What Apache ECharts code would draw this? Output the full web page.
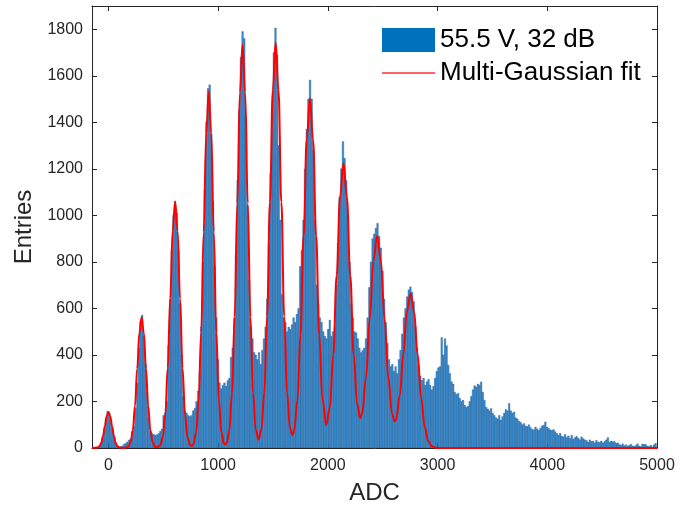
<!DOCTYPE html>
<html>
<head>
<meta charset="utf-8">
<title>ADC spectrum</title>
<script src="https://cdn.jsdelivr.net/npm/echarts@6/dist/echarts.min.js"></script>
<style>
	html, body { margin: 0; padding: 0; background: #fff; }
	#main { width: 694px; height: 510px; }
</style>
</head>
<body>
<div id="main"></div>
<script>
// histogram bins: first bin starts at BIN_START, each BIN_W wide
var BIN_START = -150;
var BIN_W = 15;

// entries per bin (20 bins = 300 ADC per row)
var counts = [
	// -150 .. 150
	0, 0, 0, 2, 6, 18, 42, 82, 128, 158, 150, 120, 80, 45, 22, 10, 5, 6, 9, 16,
	// 150 .. 450
	20, 26, 34, 40, 70, 92, 170, 280, 430, 545, 571, 480, 360, 240, 130, 72, 62, 58, 55, 57,
	// 450 .. 750
	62, 72, 82, 140, 150, 200, 440, 640, 850, 1000, 1062, 1010, 850, 620, 400, 220, 160, 150, 140, 135,
	// 750 .. 1050
	140, 160, 170, 200, 245, 330, 520, 800, 1110, 1400, 1545, 1561, 1350, 1060, 780, 560, 380, 280, 255, 270,
	// 1050 .. 1350
	280, 265, 290, 300, 390, 430, 560, 830, 1150, 1450, 1680, 1790, 1760, 1420, 1040, 720, 520, 470, 410, 400,
	// 1350 .. 1650
	380, 410, 360, 420, 470, 520, 640, 880, 1180, 1460, 1700, 1805, 1690, 1300, 980, 660, 560, 540, 500, 520,
	// 1650 .. 1950
	510, 530, 560, 540, 575, 600, 780, 850, 980, 1200, 1370, 1500, 1582, 1500, 1280, 980, 700, 620, 560, 540,
	// 1950 .. 2250
	500, 480, 470, 510, 550, 480, 500, 520, 700, 880, 1080, 1200, 1317, 1245, 1150, 1000, 800, 620, 560, 500,
	// 2250 .. 2550
	495, 470, 430, 410, 420, 430, 470, 560, 690, 800, 900, 920, 945, 966, 910, 860, 760, 640, 540, 450,
	// 2550 .. 2850
	380, 350, 360, 330, 350, 320, 380, 420, 490, 560, 600, 650, 680, 693, 670, 630, 520, 430, 350, 310,
	// 2850 .. 3150
	290, 300, 270, 285, 295, 270, 250, 265, 300, 330, 345, 350, 475, 400, 470, 440, 356, 320, 285, 275,
	// 3150 .. 3450
	240, 230, 235, 214, 200, 205, 184, 175, 180, 200, 222, 250, 268, 262, 275, 270, 284, 240, 205, 175,
	// 3450 .. 3750
	168, 160, 170, 150, 140, 130, 125, 140, 120, 135, 150, 165, 160, 191, 160, 150, 155, 130, 125, 115,
	// 3750 .. 4050
	110, 100, 105, 95, 92, 100, 88, 80, 78, 90, 82, 76, 85, 95, 98, 112, 90, 85, 78, 76,
	// 4050 .. 4350
	79, 70, 62, 55, 63, 50, 48, 58, 45, 52, 41, 55, 38, 45, 50, 42, 36, 48, 40, 35,
	// 4350 .. 4650
	32, 25, 35, 28, 30, 22, 33, 26, 24, 30, 22, 28, 35, 45, 25, 30, 27, 28, 20, 22,
	// 4650 .. 4995
	15, 12, 18, 10, 14, 8, 12, 16, 9, 7, 11, 18, 9, 6, 17, 16, 15, 8, 6, 12, 5, 14, 20
];

var fitX = [-150, -100, -83, -66, -50, -33, -16, 0, 16, 33, 50, 66, 83, 100, 150,
	182, 202, 222, 242, 262, 282, 302, 322, 342, 362, 382, 402, 422, 440,
	473, 495, 518, 540, 563, 585, 608, 630, 653, 675, 698, 720, 743, 760,
	776, 799, 822, 845, 868, 891, 914, 937, 960, 983, 1006, 1029, 1052, 1065,
	1078, 1102, 1126, 1150, 1174, 1198, 1222, 1246, 1270, 1294, 1318, 1342, 1368,
	1394, 1420, 1446, 1472, 1498, 1524, 1550, 1576, 1602, 1628, 1654, 1678,
	1693, 1722, 1750, 1779, 1807, 1836, 1865, 1893, 1921, 1950, 1985,
	2018, 2049, 2080, 2111, 2142, 2173, 2204, 2235, 2266, 2295,
	2313, 2347, 2381, 2415, 2449, 2483, 2517, 2551, 2585, 2608,
	2623, 2655, 2688, 2720, 2753, 2786, 2818, 2850, 2883, 2915, 2948, 2980, 3000, 5000];
var fitY = [0, 2, 7, 21, 50, 94, 137, 155, 137, 94, 50, 21, 7, 2, 0.5,
	6, 25, 76, 182, 341, 496, 562, 496, 341, 182, 76, 25, 6, 3,
	12, 46, 143, 344, 642, 934, 1058, 934, 642, 344, 143, 46, 14, 9,
	18, 67, 207, 497, 929, 1352, 1532, 1352, 929, 497, 207, 68, 20, 15,
	22, 76, 234, 563, 1051, 1529, 1733, 1529, 1051, 563, 235, 80, 36,
	79, 236, 566, 1057, 1538, 1743, 1538, 1057, 566, 238, 86, 55,
	75, 204, 488, 912, 1326, 1503, 1326, 912, 488, 213, 99,
	175, 399, 742, 1080, 1224, 1080, 742, 404, 190, 128,
	151, 301, 553, 804, 911, 804, 554, 301, 147, 114,
	124, 225, 405, 586, 664, 586, 403, 216, 90, 29, 7, 1.5, 0.5, 0];

var xTicks = [0, 1000, 2000, 3000, 4000, 5000];
var yTicks = [0, 200, 400, 600, 800, 1000, 1200, 1400, 1600, 1800];

var FONT = '"Liberation Sans", Arial, Helvetica, sans-serif';
var AXIS_COLOR = '#262626';

var histData = counts.map(function (c, i) {
	return [BIN_START + i * BIN_W, c];
});
var fitData = fitX.map(function (x, i) {
	return [x, fitY[i]];
});

var chart = echarts.init(document.getElementById('main'), null, { renderer: 'canvas' });

function boxAxis(pos, showLabel, ticks) {
	return {
		type: 'value',
		position: pos,
		axisLine: { show: true, onZero: false, lineStyle: { color: AXIS_COLOR, width: 1 } },
		axisTick: { show: true, inside: true, length: 5, customValues: ticks, lineStyle: { color: AXIS_COLOR } },
		axisLabel: {
			show: showLabel,
			customValues: ticks,
			color: AXIS_COLOR,
			fontSize: 16,
			fontFamily: FONT,
			formatter: function (v) { return String(v); }
		},
		splitLine: { show: false }
	};
}

var xBottom = boxAxis('bottom', true, xTicks);
xBottom.min = -150;
xBottom.max = 5000;
xBottom.axisLabel.margin = 10;
xBottom.name = 'ADC';
xBottom.nameLocation = 'middle';
xBottom.nameGap = 33;
xBottom.nameTextStyle = { fontSize: 24, color: AXIS_COLOR, fontFamily: FONT };

var xTop = boxAxis('top', false, xTicks);
xTop.min = -150;
xTop.max = 5000;

var yLeft = boxAxis('left', true, yTicks);
yLeft.min = 0;
yLeft.max = 1900;
yLeft.axisLabel.margin = 9;
yLeft.name = 'Entries';
yLeft.nameLocation = 'middle';
yLeft.nameGap = 48;
yLeft.nameTextStyle = { fontSize: 24, color: AXIS_COLOR, fontFamily: FONT };

var yRight = boxAxis('right', false, yTicks);
yRight.min = 0;
yRight.max = 1900;

var option = {
	animation: false,
	backgroundColor: '#fff',
	grid: { left: 92, right: 37, top: 6, bottom: 62 },
	legend: {
		orient: 'vertical',
		left: 377,
		top: 22,
		itemWidth: 53,
		itemHeight: 24,
		itemGap: 7,
		textStyle: { fontSize: 26, lineHeight: 24, color: '#000', fontFamily: FONT },
		data: [
			{ name: '55.5 V, 32 dB', icon: 'rect' },
			{
				name: 'Multi-Gaussian fit',
				icon: 'path://M0,0 L53,0 L53,1.5 L0,1.5 Z',
				itemStyle: { color: '#ff3030' }
			}
		]
	},
	xAxis: [xBottom, xTop],
	yAxis: [yLeft, yRight],
	series: [{
		name: '55.5 V, 32 dB',
		type: 'custom',
		xAxisIndex: 0,
		yAxisIndex: 0,
		clip: true,
		itemStyle: { color: '#0072BD' },
		data: histData,
		renderItem: function (params, api) {
			var x0 = api.value(0);
			var y = api.value(1);
			var p0 = api.coord([x0, y]);
			var p1 = api.coord([x0 + BIN_W, 0]);
			return {
				type: 'rect',
				shape: { x: p0[0], y: p0[1], width: p1[0] - p0[0], height: p1[1] - p0[1] },
				style: { fill: '#3a8fd3', stroke: 'rgba(10,60,110,0.55)', lineWidth: 0.5 }
			};
		}
	}, {
		name: 'Multi-Gaussian fit',
		type: 'line',
		xAxisIndex: 0,
		yAxisIndex: 0,
		data: fitData,
		symbol: 'none',
		smooth: 0.4,
		smoothMonotone: 'x',
		z: 5,
		itemStyle: { color: '#ff0000' },
		lineStyle: { color: '#ff0000', width: 2 }
	}]
};

chart.setOption(option);
</script>
</body>
</html>
